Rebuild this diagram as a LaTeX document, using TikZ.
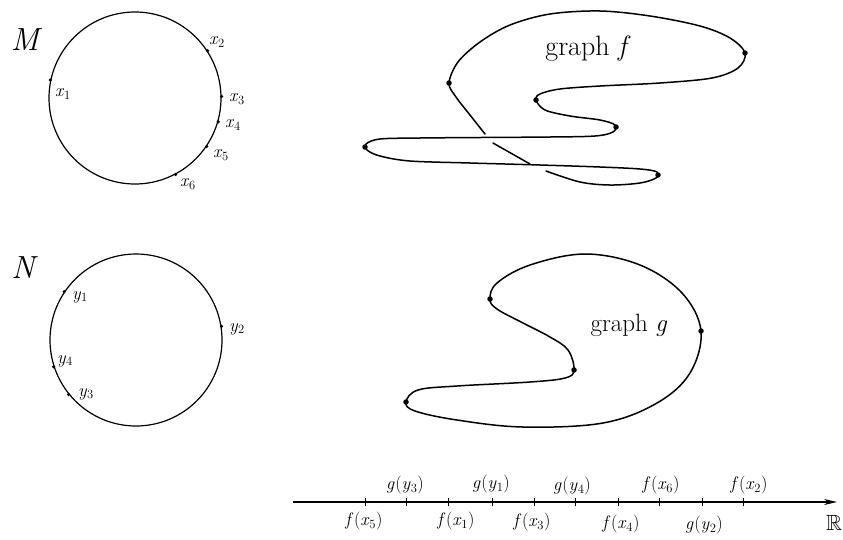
\documentclass[tikz,border=0pt]{standalone}
\usepackage{amssymb}
\usetikzlibrary{arrows.meta}
\newcommand\vsub[2]{\textit{#1}\textsubscript{#2}}
\newcommand\fn[3]{\textit{#1}\kern0.5pt(\vsub{#2}{#3})}
\begin{document}
\begin{tikzpicture}[x=1pt,y=-1pt,
  curve/.style={line width=1.5pt, line cap=round, line join=round},
  bigdot/.style={circle, fill=black, inner sep=0pt, minimum size=5.5pt},
  smalldot/.style={circle, fill=black, inner sep=0pt, minimum size=3.5pt},
  ring/.style={draw, circle, line width=1.2pt, inner sep=0pt, minimum size=172pt},
  lab/.style={inner sep=0pt, font=\fontsize{18}{18}\selectfont},
  axlab/.style={inner sep=0pt, font=\fontsize{18}{18}\selectfont},
  big/.style={inner sep=0pt, font=\fontsize{32}{32}\selectfont\itshape},
  gftext/.style={inner sep=0pt, font=\fontsize{28}{28}\selectfont},
  ggtext/.style={inner sep=0pt, font=\fontsize{25}{25}\selectfont},
  tick/.style={line width=1pt}]
\useasboundingbox (0,0) rectangle (843,539);

% ---------- M ----------
\node[big] (Mlab) at (25,40) {M};
\node[ring] (M) at (135,98) {};
\node[smalldot] (px1) at (M.168) {};
\node[smalldot] (px2) at (M.33) {};
\node[smalldot] (px3) at (M.1) {};
\node[smalldot] (px4) at (M.-16) {};
\node[smalldot] (px5) at (M.-34) {};
\node[smalldot] (px6) at (M.-62) {};
\node[lab] (lx1) at (63,94) {\vsub{x}{1}};
\node[lab] (lx2) at (217,42) {\vsub{x}{2}};
\node[lab] (lx3) at (237,99) {\vsub{x}{3}};
\node[lab] (lx4) at (233,125) {\vsub{x}{4}};
\node[lab] (lx5) at (221,155) {\vsub{x}{5}};
\node[lab] (lx6) at (188,184) {\vsub{x}{6}};

% ---------- N ----------
\node[big] (Nlab) at (23,268) {N};
\node[ring] (N) at (136,340) {};
\node[smalldot] (py1) at (N.146) {};
\node[smalldot] (py2) at (N.9) {};
\node[smalldot] (py4) at (N.198) {};
\node[smalldot] (py3) at (N.219) {};
\node[lab] (ly1) at (80,297) {\vsub{y}{1}};
\node[lab] (ly2) at (237,329) {\vsub{y}{2}};
\node[lab] (ly4) at (65,361) {\vsub{y}{4}};
\node[lab] (ly3) at (86,394) {\vsub{y}{3}};

% ---------- graph f ----------
\draw[curve] plot[smooth, tension=0.55] coordinates {
 (485,134) (470,115) (456,97) (449,83) (458,62) (480,42) (510,25) (550,14)
 (600,11) (650,16) (700,26) (730,38) (745,53) (738,68) (712,78) (660,83)
 (600,86) (560,89) (540,94) (536,100) (545,110) (570,116) (600,120) (615,125)
 (613,132) (595,136) (550,137) (480,137.5) (420,138) (380,139) (366,144)
 (367,150) (380,156) (410,161) (470,163) (540,165) (600,167) (640,169)
 (657,172) (656,178) (640,183) (610,185) (580,182) (546,171)};
\draw[curve] (530,164) -- (493,143);
\node[bigdot] (f1) at (449,83) {};
\node[bigdot] (f2) at (745,53) {};
\node[bigdot] (f3) at (536,100) {};
\node[bigdot] (f4) at (616,127) {};
\node[bigdot] (f5) at (365,147) {};
\node[bigdot] (f6) at (658,175) {};
\node[gftext] (gf) at (588,48) {graph \textit{f}};

% ---------- graph g ----------
\draw[curve] plot[smooth cycle, tension=0.6] coordinates {
 (490,299) (497,283) (530,265) (585,254) (640,265) (682,293) (701,331)
 (690,373) (657,403) (603,423) (523,427) (457,420) (415,411) (406,402)
 (418,390) (457,386) (530,382) (565,378) (574,370) (568,350) (550,337)
 (523,323) (497,309)};
\node[bigdot] (g1) at (490,299) {};
\node[bigdot] (g2) at (701,331) {};
\node[bigdot] (g3) at (574,370) {};
\node[bigdot] (g4) at (406,402) {};
\node[ggtext] (gg) at (629,325) {graph \textit{g}};

% ---------- real line ----------
\coordinate (a0) at (293,502);
\coordinate (a1) at (837,502);
\draw[line width=1.2pt, -{Stealth[length=13pt,width=6pt]}] (a0) -- (a1);
\foreach \n/\x in {1/365,2/406,3/448,4/492,5/534,6/575,7/618,8/659,9/702,10/743}{
  \coordinate (t\n) at (\x,502);
  \draw[tick] ([yshift=-4pt]t\n) -- ([yshift=4pt]t\n);
}
\node[axlab] (Lf5) at (364,521) {\fn{f}{x}{5}};
\node[axlab] (Lg3) at (405,485) {\fn{g}{y}{3}};
\node[axlab] (Lf1) at (456,521) {\fn{f}{x}{1}};
\node[axlab] (Lg1) at (491,484) {\fn{g}{y}{1}};
\node[axlab] (Lf3) at (532,522) {\fn{f}{x}{3}};
\node[axlab] (Lg4) at (572,486) {\fn{g}{y}{4}};
\node[axlab] (Lf4) at (621,524) {\fn{f}{x}{4}};
\node[axlab] (Lf6) at (661,485) {\fn{f}{x}{6}};
\node[axlab] (Lg2) at (704,525) {\fn{g}{y}{2}};
\node[axlab] (Lf2) at (749,485) {\fn{f}{x}{2}};
\node[inner sep=0pt] (LR) at (834,523) {\scalebox{2.2}{$\mathbb{R}$}};
\end{tikzpicture}
\end{document}
